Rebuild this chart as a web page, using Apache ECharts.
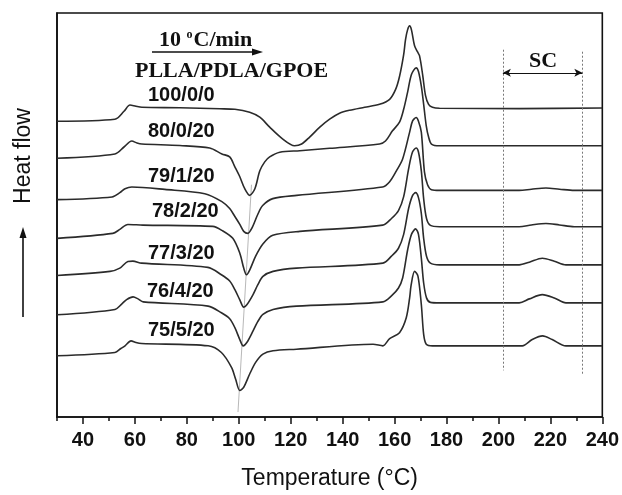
<!DOCTYPE html>
<html>
<head>
<meta charset="utf-8">
<script src="https://cdn.jsdelivr.net/npm/echarts@6/dist/echarts.min.js"></script>
<style>
  html, body { margin: 0; padding: 0; background: #fff; }
  #chart { width: 622px; height: 495px; }
</style>
</head>
<body>
<div id="chart"></div>
<script>
// DSC heating scans (10 °C/min), stacked heat flow in arbitrary units, [T (°C), heat flow]
const curve100_0_0 = [[30,298],[52.3,300],[55.8,308],[58.1,314.3],[60.4,313],[62.7,312],[77.3,311.5],[92.7,310.5],[98.5,310],[104.2,307],[108.1,302],[111.9,292],[116.5,281],[121.5,273.3],[124.2,275],[127.3,282],[131.2,292],[135,300],[138.8,306],[142.7,309],[148.5,312],[154.2,315],[158.1,320],[160.4,330],[161.9,343],[163.5,365],[164.2,380],[165,390],[165.8,394],[166.5,390],[167.7,374],[168.8,368],[169.6,364],[170.8,345],[171.9,324],[173.1,315],[174.6,312],[177.3,311],[208,310.7],[240,311.3]];
const curve80_0_20 = [[30,260.7],[52.3,265],[55.8,272],[58.8,278],[60.8,276],[62.7,275],[77.3,273.5],[88.8,271],[93.5,265],[96.5,262],[98.5,252],[100.4,242],[102.3,230],[104.2,223.3],[106.2,230],[108.1,248],[110,257],[111.9,262],[115.8,266.7],[123.5,268.3],[135,270.7],[154.2,275],[156.5,278],[159.2,288.3],[161.9,297],[163.5,310],[165,327],[166.5,345],[168.3,351.7],[169.2,348],[170.3,333.3],[171.2,315],[172.2,293.3],[173.1,282],[174.2,275],[177.3,273.3],[208,273.3],[240,273.3]];
const curve79_1_20 = [[30,219],[51.2,221.7],[54.2,226],[56.2,230],[58.8,231.7],[71.5,229.3],[86.9,225],[93.5,217],[96.5,210],[98.5,202],[100.4,194],[101.9,187],[103.5,185],[105,190],[107.3,204],[109.2,213],[113.1,220],[122.3,223.3],[155.4,231.7],[158.1,237],[160.7,248],[163.1,260],[165.8,287],[166.9,298],[168.3,301.7],[169.2,298],[170.3,287],[171.5,247],[172.7,234],[174.2,229],[177.3,228.3],[208,228.3],[212.7,229.5],[218.3,230.7],[223.5,229.5],[229.2,228.3],[240,228.3]];
const curve78_2_20 = [[30,180],[51.5,185],[54.2,189],[57.3,194],[63.1,193.3],[90,192],[93.5,188],[97.7,180],[100.4,165],[101.9,150],[103,143.3],[104.2,148],[106.5,162],[109.2,174],[113.1,183],[123.5,187],[155.4,193.3],[158.8,200],[161.5,208],[163.5,222],[165.4,250],[166.9,267],[168.3,271],[169.2,267],[170.3,248],[171.2,220],[172.3,200],[173.8,193],[177.3,191.7],[208,191.7],[212.7,193.5],[218.3,195],[223.5,193.5],[229.2,191.7],[240,191.7]];
const curve77_3_20 = [[30,142.5],[50.4,146.7],[54.2,150],[57.3,156.7],[59.2,157],[62.6,155],[88.1,150.7],[93.3,143.3],[96.5,137],[98.5,128.3],[100.4,118],[101.9,110.7],[103.1,113],[105.5,123.3],[107.3,133],[109.3,141.7],[113.2,146.7],[122.2,150],[155.5,155],[158.8,162],[161.5,170],[163.5,184],[165.4,210],[166.9,223],[168.1,226],[169.2,221],[170.3,205],[171.2,180],[172.3,162],[173.8,155],[177.3,153.3],[208,153.3],[211.9,156],[216.9,160],[221.5,157],[226,153.3],[240,153.3]];
const curve76_4_20 = [[30,103],[52.3,108.3],[55,114],[56.8,118.3],[59.3,121],[61.2,119],[63.2,116],[88.2,111.7],[93.3,105],[96.5,99],[98.5,90],[100.4,78],[101.7,71.7],[103.1,75],[105.5,86.7],[107.3,96],[109.3,103.3],[113.2,108.3],[122.2,111.7],[155.5,116],[158.8,122],[161.5,130],[163.1,140],[165,168],[166.5,184],[168.1,189.5],[169.2,184],[170.3,160],[171.2,135],[172.3,120],[173.8,115.5],[177.3,115],[208,115],[211.9,119],[216.9,123.3],[221.5,120],[226,115],[240,115]];
const curve75_5_20 = [[30,61.7],[52.3,65],[54.6,69],[56.2,71.7],[58.5,76.7],[60.4,75],[62.6,74],[88.2,71.7],[93.3,65],[97.2,50],[98.8,38],[100.4,26.7],[101.9,30],[104.2,43.3],[106.5,55],[109.3,63.3],[113.2,66.7],[122.2,68.3],[151.7,73.3],[155.5,71.7],[158.1,79],[161.9,85],[164.5,100],[165.8,120],[166.4,133.3],[167.7,146.7],[169,142],[170.3,113.3],[171.2,83.3],[172.2,73.3],[174.6,71.7],[208,71.7],[209.2,71.7],[213,78],[217,81.7],[220.7,78],[226,71.7],[240,71.7]];

const curves = [curve100_0_0, curve80_0_20, curve79_1_20, curve78_2_20, curve77_3_20, curve76_4_20, curve75_5_20];
const compositions = ['100/0/0', '80/0/20', '79/1/20', '78/2/20', '77/3/20', '76/4/20', '75/5/20'];

// guide through the cold-crystallization minima
const coldCrystGuide = [[104.9, 234], [99.7, 5]];
// stereocomplex melting window
const scWindow = [201.7, 232.3];

const xLabelTicks = [40, 60, 80, 100, 120, 140, 160, 180, 200, 220, 240];
const xMinorTicks = [30, 50, 70, 90, 110, 130, 150, 170, 190, 210, 230];

const chart = echarts.init(document.getElementById('chart'), null, { renderer: 'canvas' });

const sansBold = 'bold 20px "Liberation Sans", Arial, sans-serif';
const serifBold = 'bold 22px "Liberation Serif", "Times New Roman", serif';
const labelY = [95, 131, 176, 211, 253, 291, 330];
const labelX = [148, 148, 148, 152, 148, 147, 148];

const series = curves.map((c, i) => ({
  name: compositions[i],
  type: 'line',
  data: c,
  showSymbol: false,
  smooth: 0.3,
  lineStyle: { color: '#2b2b2b', width: 1.6 },
  z: 3
}));

series.push({
  type: 'line',
  data: coldCrystGuide,
  showSymbol: false,
  lineStyle: { color: '#b8b8b8', width: 1 },
  z: 2
});

series.push({
  type: 'line',
  data: [],
  markLine: {
    silent: true,
    symbol: ['none', 'none'],
    label: { show: false },
    lineStyle: { color: '#777', type: [2, 2], width: 1 },
    data: [
      [{ coord: [scWindow[0], 370] }, { coord: [scWindow[0], 47] }],
      [{ coord: [scWindow[1], 368] }, { coord: [scWindow[1], 42] }],
      [{ coord: [scWindow[0], 346.7], symbol: 'arrow', symbolSize: [6, 8], lineStyle: { color: '#111', type: 'solid', width: 1.2 } },
       { coord: [scWindow[1], 346.7], symbol: 'arrow', symbolSize: [6, 8] }]
    ]
  }
});

const graphics = compositions.map((t, i) => ({
  type: 'text',
  x: labelX[i],
  y: labelY[i],
  style: { text: t, font: sansBold, fill: '#111', textAlign: 'left', textVerticalAlign: 'middle' },
  z: 10
}));

graphics.push(
  {
    type: 'text', x: 159, y: 40,
    style: {
      text: '10 {s|o}C/min', font: serifBold, fill: '#111', textAlign: 'left', textVerticalAlign: 'middle',
      rich: { s: { font: 'bold 12px "Liberation Serif", serif', verticalAlign: 'top', padding: [0, 1, 10, 0] } }
    }, z: 10
  },
  { type: 'line', shape: { x1: 152, y1: 52, x2: 255, y2: 52 }, style: { stroke: '#111', lineWidth: 1.3 }, z: 10 },
  { type: 'polygon', shape: { points: [[263, 52], [252, 48.5], [252, 55.5]] }, style: { fill: '#111' }, z: 10 },
  {
    type: 'text', x: 135, y: 71,
    style: { text: 'PLLA/PDLA/GPOE', font: serifBold, fill: '#111', textAlign: 'left', textVerticalAlign: 'middle' }, z: 10
  },
  {
    type: 'text', x: 543, y: 61,
    style: { text: 'SC', font: serifBold, fill: '#111', textAlign: 'center', textVerticalAlign: 'middle' }, z: 10
  },
  {
    type: 'text', x: 24, y: 156, rotation: Math.PI / 2,
    style: { text: 'Heat flow', font: '23px "Liberation Sans", Arial, sans-serif', fill: '#111', textAlign: 'center', textVerticalAlign: 'middle' }, z: 10
  },
  { type: 'line', shape: { x1: 23, y1: 317, x2: 23, y2: 236 }, style: { stroke: '#111', lineWidth: 1.6 }, z: 10 },
  { type: 'polygon', shape: { points: [[23, 227], [19.5, 238], [26.5, 238]] }, style: { fill: '#111' }, z: 10 }
);

chart.setOption({
  animation: false,
  backgroundColor: '#fff',
  grid: { left: 57, right: 19, top: 13, bottom: 75, show: true, borderColor: '#111', borderWidth: 1.6, containLabel: false },
  xAxis: [
    {
      type: 'value', min: 30, max: 240,
      name: 'Temperature (°C)', nameLocation: 'middle', nameGap: 50,
      nameTextStyle: { fontFamily: '"Liberation Sans", Arial, sans-serif', fontSize: 23, color: '#111' },
      axisLine: { show: true, onZero: false, lineStyle: { color: '#111', width: 1.6 } },
      axisTick: { show: true, inside: false, length: 7, customValues: xLabelTicks, lineStyle: { color: '#111', width: 1.5 } },
      axisLabel: { customValues: xLabelTicks, margin: 13, fontFamily: '"Liberation Sans", Arial, sans-serif', fontWeight: 'bold', fontSize: 20, color: '#111' },
      splitLine: { show: false }
    },
    {
      type: 'value', min: 30, max: 240, position: 'bottom', gridIndex: 0,
      axisLine: { show: false, onZero: false },
      axisTick: { show: true, inside: false, length: 4, customValues: xMinorTicks, lineStyle: { color: '#111', width: 1.5 } },
      axisLabel: { show: false },
      splitLine: { show: false }
    }
  ],
  yAxis: {
    type: 'value', min: 0, max: 407,
    axisLine: { show: true, lineStyle: { color: '#111', width: 1.6 } },
    axisTick: { show: false }, axisLabel: { show: false }, splitLine: { show: false }
  },
  series: series,
  graphic: graphics
});
</script>
</body>
</html>
